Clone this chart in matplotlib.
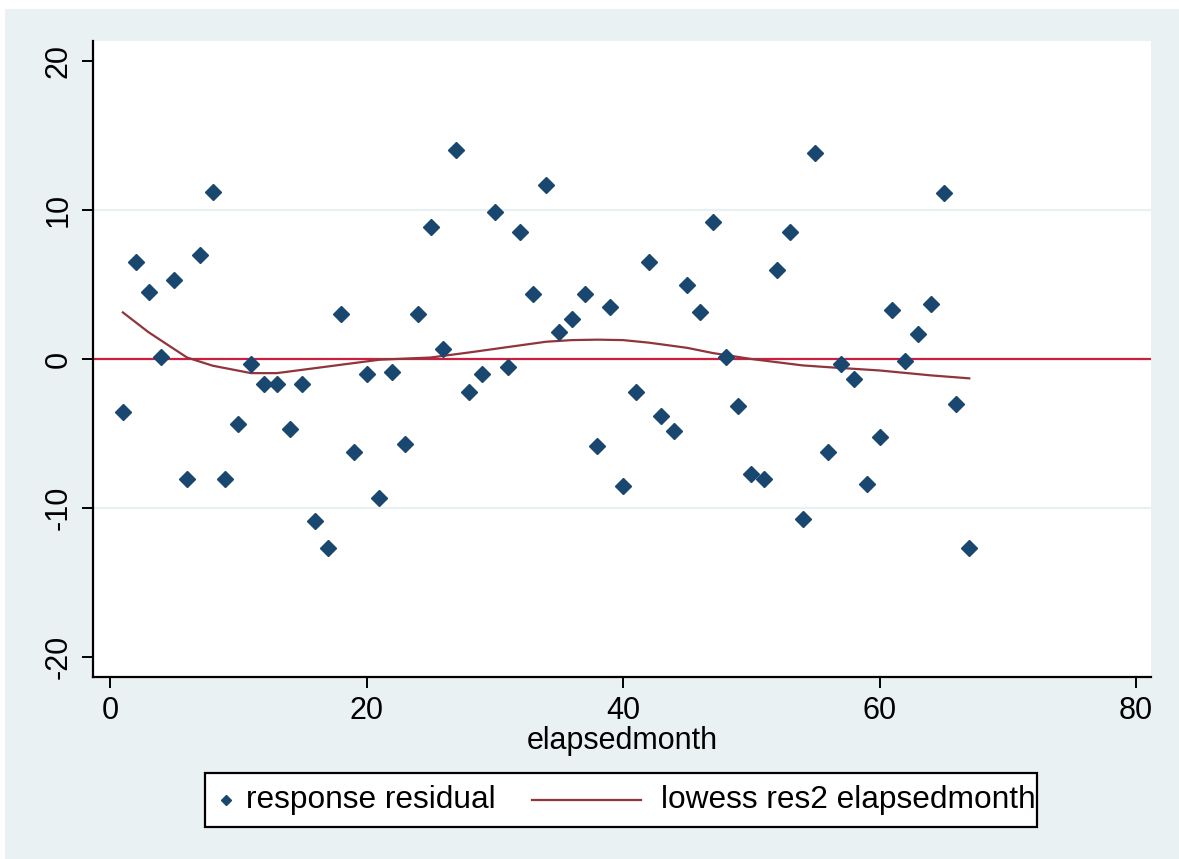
import matplotlib
matplotlib.use("Agg")
import matplotlib.pyplot as plt
from matplotlib.patches import Rectangle
from matplotlib.lines import Line2D

plt.rcParams['font.family'] = ['Liberation Sans', 'DejaVu Sans']

# ---- data ----
months = list(range(1, 68))
residuals = [-3.53, 6.51, 4.50, 0.13, 5.32, -8.05, 6.98, 11.20, -8.05, -4.36,
             -0.35, -1.69, -1.69, -4.69, -1.69, -10.88, -12.70, 3.02, -6.22, -1.02,
             -9.35, -0.88, -5.70, 3.02, 8.84, 0.69, 14.02, -2.20, -1.02, 9.85,
             -0.52, 8.51, 4.34, 11.69, 1.81, 2.66, 4.34, -5.84, 3.49, -8.55,
             -2.20, 6.51, -3.86, -4.87, 4.99, 3.17, 9.18, 0.13, -3.19, -7.70,
             -8.05, 6.00, 8.51, -10.72, 13.86, -6.22, -0.35, -1.36, -8.37, -5.21,
             3.31, -0.12, 1.65, 3.67, 11.17, -3.03, -12.71]
lowess_x = [1, 3, 6, 8, 11, 13, 17, 21, 25, 28, 31, 34, 36, 38, 40, 42, 45, 47, 50, 54, 56, 60, 64, 67]
lowess_y = [3.13, 1.8, 0.1, -0.45, -0.95, -0.95, -0.5, -0.05, 0.1, 0.44, 0.8, 1.16, 1.27, 1.3,
            1.27, 1.1, 0.75, 0.4, 0.0, -0.43, -0.55, -0.77, -1.1, -1.3]
xticks = [0, 20, 40, 60, 80]
yticks = [-20, -10, 0, 10, 20]
xlabel = "elapsedmonth"
legend_labels = ["response residual", "lowess res2 elapsedmonth"]

NAVY = "#1a476f"
MAROON = "#90353b"
RED = "#cc1f3f"
BG = "#eaf1f3"
GRID = "#e8f0f2"

W, H = 1179, 859
fig = plt.figure(figsize=(W / 100, H / 100), dpi=100, facecolor="white")

def fx(px):
    return px / W

def fy(py):
    return 1 - py / H

# outer light background panel
fig.patches.append(Rectangle((fx(5), 0), 1 - fx(5), fy(9), transform=fig.transFigure,
                             facecolor=BG, edgecolor="none", zorder=-10))

L, R, T, B = 93, 1151, 41, 677
ax = fig.add_axes([fx(L), fy(B), fx(R) - fx(L), fy(T) - fy(B)])
ax.set_facecolor("white")

ax.set_xlim(-1.33, 81.17)
ax.set_ylim(-21.37, 21.37)

for g in [-10, 10]:
    ax.axhline(g, color=GRID, lw=1.6, zorder=0)
ax.axhline(0, color=RED, lw=1.6, zorder=1)

ax.plot(lowess_x, lowess_y, color=MAROON, lw=1.6, zorder=2)
ax.plot(months, residuals, linestyle="none", marker="D", ms=7.8, color=NAVY,
        markeredgecolor=NAVY, zorder=3)

ax.set_xticks(xticks)
ax.set_yticks(yticks)
ax.set_xticklabels([str(v) for v in xticks])
ax.set_yticklabels([str(v) for v in yticks])
ax.tick_params(axis="both", labelsize=22, width=1.4, length=8, color="black")
ax.tick_params(axis="x", pad=6)
ax.tick_params(axis="y", labelrotation=90, pad=6)
for lab in ax.get_yticklabels():
    lab.set_va("center")

for s in ["top", "right"]:
    ax.spines[s].set_visible(False)
for s in ["left", "bottom"]:
    ax.spines[s].set_linewidth(1.6)
    ax.spines[s].set_color("black")

ax.set_xlabel(xlabel, fontsize=22, labelpad=0)

# legend (drawn manually to match layout)
lx0, ly0, lx1, ly1 = 205, 773, 1037, 827
fig.patches.append(Rectangle((fx(lx0), fy(ly1)), fx(lx1) - fx(lx0), fy(ly0) - fy(ly1),
                             transform=fig.transFigure, facecolor="white",
                             edgecolor="black", lw=1.6, zorder=5))
cy = fy((ly0 + ly1) / 2)
fig.add_artist(Line2D([fx(226)], [cy], marker="D", ms=5.4, color=NAVY, linestyle="none",
                      transform=fig.transFigure, zorder=6))
fig.text(fx(246), cy, legend_labels[0], fontsize=22.8, va="center", ha="left", zorder=6)
fig.add_artist(Line2D([fx(532), fx(641)], [cy, cy], color=MAROON, lw=1.6,
                      transform=fig.transFigure, zorder=6))
fig.text(fx(661), cy, legend_labels[1], fontsize=22.8, va="center", ha="left", zorder=6)

fig.savefig("out.png", dpi=100, facecolor="white")
